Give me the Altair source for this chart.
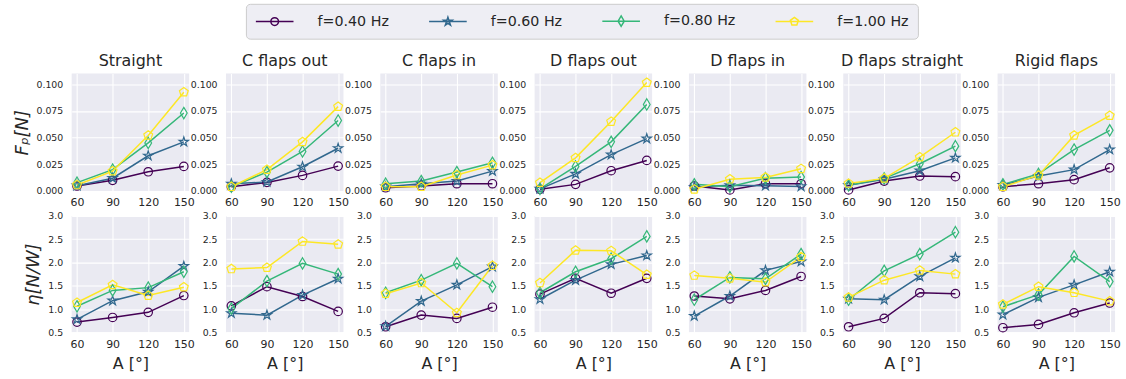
import math
import altair as alt
import pandas as pd

angles = [60, 90, 120, 150]
freqs = ["f=0.40 Hz", "f=0.60 Hz", "f=0.80 Hz", "f=1.00 Hz"]
configs = ["Straight", "C flaps out", "C flaps in", "D flaps out",
           "D flaps in", "D flaps straight", "Rigid flaps"]

# Propulsive force F_p [N]: one row per frequency, one value per angle A
fp_straight = [[0.0047, 0.010, 0.018, 0.023], [0.005, 0.012, 0.033, 0.046],
               [0.0078, 0.020, 0.045, 0.073], [0.0056, 0.0186, 0.052, 0.0925]]
fp_c_out = [[0.004, 0.008, 0.0146, 0.0233], [0.0068, 0.0084, 0.0227, 0.040],
            [0.004, 0.0177, 0.037, 0.066], [0.004, 0.020, 0.046, 0.079]]
fp_c_in = [[0.003, 0.0047, 0.0068, 0.0068], [0.004, 0.0068, 0.0093, 0.0186],
           [0.0068, 0.0093, 0.0177, 0.0264], [0.004, 0.004, 0.015, 0.0242]]
fp_d_out = [[0.0016, 0.0062, 0.019, 0.0286], [0.002, 0.016, 0.034, 0.049],
            [0.002, 0.023, 0.046, 0.081], [0.0078, 0.031, 0.065, 0.1015]]
fp_d_in = [[0.0047, 0.001, 0.0068, 0.0068], [0.0037, 0.0053, 0.005, 0.0043],
           [0.0062, 0.004, 0.012, 0.013], [0.0016, 0.011, 0.0127, 0.0208]]
fp_d_straight = [[0.001, 0.0093, 0.014, 0.0134], [0.0053, 0.011, 0.019, 0.031],
                 [0.0053, 0.0118, 0.0255, 0.042], [0.007, 0.0118, 0.0317, 0.055]]
fp_rigid = [[0.004, 0.0068, 0.0106, 0.0217], [0.0056, 0.014, 0.020, 0.0388],
            [0.0062, 0.016, 0.0388, 0.0568], [0.004, 0.0146, 0.052, 0.0705]]

# Efficiency eta [N/W]
eta_straight = [[0.72, 0.82, 0.93, 1.29], [0.78, 1.18, 1.37, 1.92],
                [1.06, 1.40, 1.46, 1.80], [1.14, 1.52, 1.29, 1.47]]
eta_c_out = [[1.07, 1.48, 1.27, 0.95], [0.91, 0.87, 1.30, 1.65],
             [1.01, 1.60, 1.98, 1.75], [1.86, 1.89, 2.45, 2.39]]
eta_c_in = [[0.62, 0.87, 0.80, 1.04], [0.63, 1.17, 1.52, 1.91],
            [1.35, 1.62, 1.98, 1.48], [1.33, 1.56, 0.92, 1.93]]
eta_d_out = [[1.32, 1.66, 1.34, 1.66], [1.21, 1.62, 1.96, 2.15],
             [1.35, 1.80, 2.08, 2.56], [1.56, 2.26, 2.25, 1.74]]
eta_d_in = [[1.28, 1.22, 1.40, 1.70], [0.85, 1.28, 1.83, 2.02],
            [1.20, 1.68, 1.65, 2.18], [1.72, 1.66, 1.58, 2.12]]
eta_d_straight = [[0.62, 0.80, 1.35, 1.33], [1.22, 1.20, 1.70, 2.10],
                  [1.20, 1.82, 2.18, 2.65], [1.25, 1.62, 1.83, 1.75]]
eta_rigid = [[0.60, 0.67, 0.92, 1.13], [0.88, 1.25, 1.52, 1.80],
             [1.05, 1.31, 2.13, 1.59], [1.10, 1.48, 1.35, 1.17]]

fp_sets = [fp_straight, fp_c_out, fp_c_in, fp_d_out, fp_d_in, fp_d_straight, fp_rigid]
eta_sets = [eta_straight, eta_c_out, eta_c_in, eta_d_out, eta_d_in, eta_d_straight, eta_rigid]

colors = ["#440154", "#31688e", "#35b779", "#fde725"]
INK = "#262626"
FONT = "DejaVu Sans"


def fmt(pts):
    return "M" + "L".join(f"{x:.3f},{y:.3f}" for x, y in pts) + "Z"


def star_pts(r, cx=0.0, cy=0.0):
    out = []
    for k in range(10):
        a = math.radians(-90 + 36 * k)
        rr = r if k % 2 == 0 else r * 0.382
        out.append((cx + rr * math.cos(a), cy + rr * math.sin(a)))
    return out


def pent_pts(r, cx=0.0, cy=0.0):
    return [(cx + r * math.cos(math.radians(-90 + 72 * k)),
             cy + r * math.sin(math.radians(-90 + 72 * k))) for k in range(5)]


def diam_pts(h, w, cx=0.0, cy=0.0):
    return [(cx, cy - h), (cx + w, cy), (cx, cy + h), (cx - w, cy)]


def circ(r, cx=0.0):
    return (f"M{cx + r:.3f},0A{r:.3f},{r:.3f},0,1,1,{cx - r:.3f},0"
            f"A{r:.3f},{r:.3f},0,1,1,{cx + r:.3f},0Z")


# marker outlines for the plotted points (unit box, scaled by mark size)
marker_keys = ["o", "*", "d", "p"]
marker_paths = ["circle", fmt(star_pts(1.15)), fmt(diam_pts(1.35, 0.8)), fmt(pent_pts(1.1))]

# legend handles: a short line with the marker in its middle
C, K = 1.7, 0.55
handle_line = "M-1,0L4.4,0"
legend_paths = [
    handle_line + circ(K, C),
    handle_line + fmt(star_pts(1.15 * K, C)),
    handle_line + fmt(diam_pts(1.35 * K, 0.8 * K, C)),
    handle_line + fmt(pent_pts(1.1 * K, C)),
]
shape_expr = ("[" + ",".join(f"'{p}'" for p in legend_paths) + "][indexof(["
              + ",".join(f"'{f}'" for f in freqs) + "], datum.value)]")

rows = []
for cfg, fp, eta in zip(configs, fp_sets, eta_sets):
    for fi, f in enumerate(freqs):
        for ai, a in enumerate(angles):
            for metric, vals in (("fp", fp), ("eta", eta)):
                rows.append({"config": cfg, "metric": metric, "series": f,
                             "marker": marker_keys[fi], "A": a, "value": vals[fi][ai]})
df = pd.DataFrame(rows)

color_scale = alt.Scale(domain=freqs, range=colors)
shape_scale = alt.Scale(domain=marker_keys, range=marker_paths)

legend_def = alt.Legend(
    orient="none", legendX=175, legendY=-70, direction="horizontal", columns=4,
    labelFontSize=14.3, labelFont=FONT, labelColor=INK, labelOffset=47,
    symbolSize=196, symbolStrokeWidth=1.5, columnPadding=37, padding=9,
    fillColor="#eeeef4", strokeColor="#cccccc", cornerRadius=4,
    symbolType={"expr": shape_expr},
)


def panel(ci, cfg, metric):
    top = metric == "fp"
    sub = df[(df.config == cfg) & (df.metric == metric)]
    if top:
        yscale = alt.Scale(domain=[0, 0.11], nice=False, zero=False)
        yaxis = alt.Axis(values=[0, 0.025, 0.05, 0.075, 0.1], format=".3f",
                         title="Fₚ[N]" if ci == 0 else None)
    else:
        yscale = alt.Scale(domain=[0.5, 3.0], nice=False, zero=False)
        yaxis = alt.Axis(values=[0.5, 1.0, 1.5, 2.0, 2.5, 3.0], format=".1f",
                         title="η[N/W]" if ci == 0 else None)
    xaxis = alt.Axis(values=angles, format="d", title=None if top else "A [°]")
    base = alt.Chart(sub).encode(
        x=alt.X("A:Q", scale=alt.Scale(domain=[55.5, 154.5], nice=False, zero=False), axis=xaxis),
        y=alt.Y("value:Q", scale=yscale, axis=yaxis),
    )
    lines = base.mark_line(strokeWidth=1.5).encode(
        color=alt.Color("series:N", scale=color_scale, title=None, legend=legend_def))
    pts = base.mark_point(filled=False, size=72, strokeWidth=1.2, opacity=1).encode(
        stroke=alt.Stroke("series:N", scale=color_scale, legend=None),
        shape=alt.Shape("marker:N", scale=shape_scale, legend=None),
    )
    props = dict(width=118, height=118 if top else 117)
    if top:
        props["title"] = alt.TitleParams(cfg, fontSize=16, font=FONT, color=INK,
                                         fontWeight="normal", offset=5)
    return alt.layer(lines, pts).properties(**props)


charts = [panel(ci, cfg, "fp") for ci, cfg in enumerate(configs)] + \
         [panel(ci, cfg, "eta") for ci, cfg in enumerate(configs)]

chart = alt.concat(*charts, columns=7, spacing={"row": 25, "column": 37}, bounds="flush").properties(
    padding={"left": 13, "top": 2, "right": 5, "bottom": 5},
    background="white",
).configure_view(
    fill="#eaeaf2", stroke=None,
).configure_axis(
    grid=True, gridColor="white", gridWidth=1.1, domain=False, ticks=False,
    labelFont=FONT, labelColor=INK, titleFont=FONT, titleColor=INK,
    titleFontWeight="normal",
).configure_axisX(
    labelFontSize=11, labelPadding=6, titleFontSize=16, titlePadding=6,
).configure_axisY(
    labelFontSize=9.4, labelPadding=9, titleFontSize=18, titleFontStyle="italic",
    titlePadding=5,
)

chart.save("out.html", embed_options={"renderer": "svg", "actions": False})
